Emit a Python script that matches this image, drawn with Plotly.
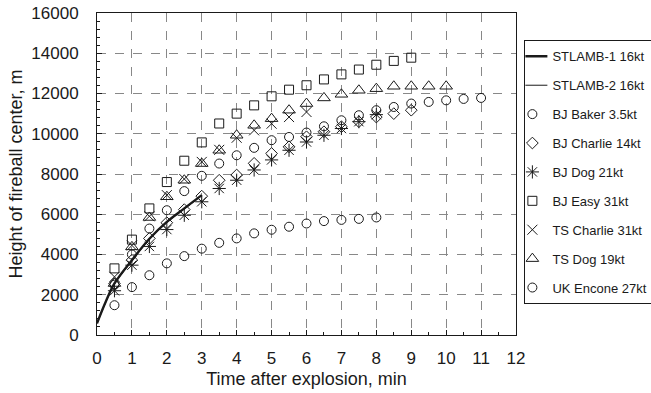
import plotly.graph_objects as go

# ---- data ----
t_line = [0, 0.25, 0.5, 1, 1.5, 2, 2.5, 3]
stlamb1 = [580, 1650, 2560, 3720, 4780, 5620, 6290, 6950]
stlamb2 = [560, 1620, 2520, 3680, 4740, 5590, 6260, 6930]

t_baker = [0.5, 1, 1.5, 2, 2.5, 3, 3.5, 4, 4.5, 5, 5.5, 6, 6.5, 7, 7.5, 8]
baker = [1480, 2380, 2970, 3560, 3920, 4290, 4580, 4800, 5050, 5230, 5380, 5540, 5660, 5720, 5770, 5840]

t_charlie = [0.5, 1, 1.5, 2, 2.5, 3, 3.5, 4, 4.5, 5, 5.5, 6, 6.5, 7, 7.5, 8, 8.5, 9]
charlie = [2550, 3720, 4800, 5580, 6230, 6900, 7690, 7950, 8530, 9020, 9350, 9850, 10100, 10350, 10600, 10830, 11000, 11170]

t_dog = [0.5, 1, 1.5, 2, 2.5, 3, 3.5, 4, 4.5, 5, 5.5, 6, 6.5, 7, 7.5, 8]
dog = [2200, 3470, 4400, 5240, 5950, 6620, 7280, 7690, 8200, 8700, 9180, 9590, 9925, 10260, 10600, 10950]

t_easy = [0.5, 1, 1.5, 2, 2.5, 3, 3.5, 4, 4.5, 5, 5.5, 6, 6.5, 7, 7.5, 8, 8.5, 9]
easy = [3310, 4740, 6290, 7600, 8660, 9570, 10510, 11000, 11410, 11860, 12190, 12410, 12700, 12950, 13190, 13430, 13620, 13780]

t_tscharlie = [0.5, 1, 1.5, 2, 2.5, 3, 3.5, 4, 4.5, 5, 5.5, 6]
tscharlie = [2890, 4450, 5900, 6950, 7750, 8600, 9200, 9800, 10170, 10500, 10830, 11080]

t_tsdog = [0.5, 1, 1.5, 2, 2.5, 3, 3.5, 4, 4.5, 5, 5.5, 6, 6.5, 7, 7.5, 8, 8.5, 9, 9.5, 10]
tsdog = [2560, 4380, 5840, 6870, 7690, 8520, 9180, 9925, 10420, 10750, 11170, 11500, 11780, 11960, 12160, 12240, 12360, 12360, 12360, 12360]

t_encone = [0.5, 1, 1.5, 2, 2.5, 3, 3.5, 4, 4.5, 5, 5.5, 6, 6.5, 7, 7.5, 8, 8.5, 9, 9.5, 10, 10.5, 11]
encone = [2500, 4000, 5290, 6200, 7150, 7910, 8520, 8930, 9300, 9680, 9840, 10060, 10370, 10670, 10920, 11170, 11330, 11500, 11580, 11660, 11730, 11780]

x_ticks = list(range(0, 13))
y_ticks = list(range(0, 16001, 2000))

INK = "#1a1a1a"
FONT = "Liberation Sans, Arial, sans-serif"

fig = go.Figure()

fig.add_trace(go.Scatter(x=t_line, y=stlamb1, mode="lines", name="STLAMB-1 16kt",
                         line=dict(color=INK, width=2.4), line_shape="spline",
                         legendgroup="a"))
fig.add_trace(go.Scatter(x=t_line, y=stlamb2, mode="lines", name="STLAMB-2 16kt",
                         line=dict(color=INK, width=1), line_shape="spline",
                         legendgroup="b"))

def mk(x, y, name, symbol, size, grp, lw=1):
    fig.add_trace(go.Scatter(
        x=x, y=y, mode="markers", name=name, legendgroup=grp,
        marker=dict(symbol=symbol, size=size, color=INK,
                    line=dict(color=INK, width=lw))))

mk(t_baker, baker, "BJ Baker 3.5kt", "circle-open", 9, "c")
mk(t_charlie, charlie, "BJ Charlie 14kt", "diamond-open", 9, "d")
mk(t_dog, dog, "BJ Dog 21kt", "asterisk-open", 11, "e")
mk(t_easy, easy, "BJ Easy 31kt", "square-open", 9, "f")
mk(t_tscharlie, tscharlie, "TS Charlie 31kt", "x-thin-open", 10, "g")
mk(t_tsdog, tsdog, "TS Dog 19kt", "triangle-up-open", 11, "h")
mk(t_encone, encone, "UK Encone 27kt", "circle-open", 9, "i")

axis_common = dict(
    showline=True, linecolor=INK, linewidth=1, mirror=True,
    showgrid=True, gridcolor="#888", griddash="dash", gridwidth=1,
    ticks="inside", ticklen=5, tickcolor=INK,
    zeroline=False, automargin=False,
    tickfont=dict(family=FONT, size=17, color=INK),
)

fig.update_xaxes(range=[0, 12], tickvals=x_ticks, ticktext=[str(v) for v in x_ticks],
                 title=dict(text="Time after explosion, min", font=dict(family=FONT, size=18, color=INK), standoff=4),
                 minor=dict(dtick=0.5, ticks="inside", ticklen=3, tickcolor=INK, showgrid=False),
                 ticklabelstandoff=8,
                 **axis_common)
fig.update_yaxes(range=[0, 16000], tickvals=y_ticks, ticktext=[str(v) for v in y_ticks],
                 title=dict(text="Height of fireball center, m", font=dict(family=FONT, size=18, color=INK), standoff=4),
                 minor=dict(dtick=400, ticks="inside", ticklen=3, tickcolor=INK, showgrid=False),
                 ticklabelstandoff=14,
                 **axis_common)

fig.update_layout(
    width=651, height=393,
    margin=dict(l=97, r=135, t=13, b=58, autoexpand=False),
    paper_bgcolor="white", plot_bgcolor="white",
    font=dict(family=FONT, color=INK),
    showlegend=True,
    legend=dict(x=1.02, y=0.915, xanchor="left", yanchor="top",
                bordercolor=INK, borderwidth=1, bgcolor="white",
                font=dict(family=FONT, size=13, color=INK),
                tracegroupgap=9, itemwidth=30, indentation=-13),
)

fig.write_html("out.html", config={"displayModeBar": False},
               post_script="document.body.style.margin='0';")
